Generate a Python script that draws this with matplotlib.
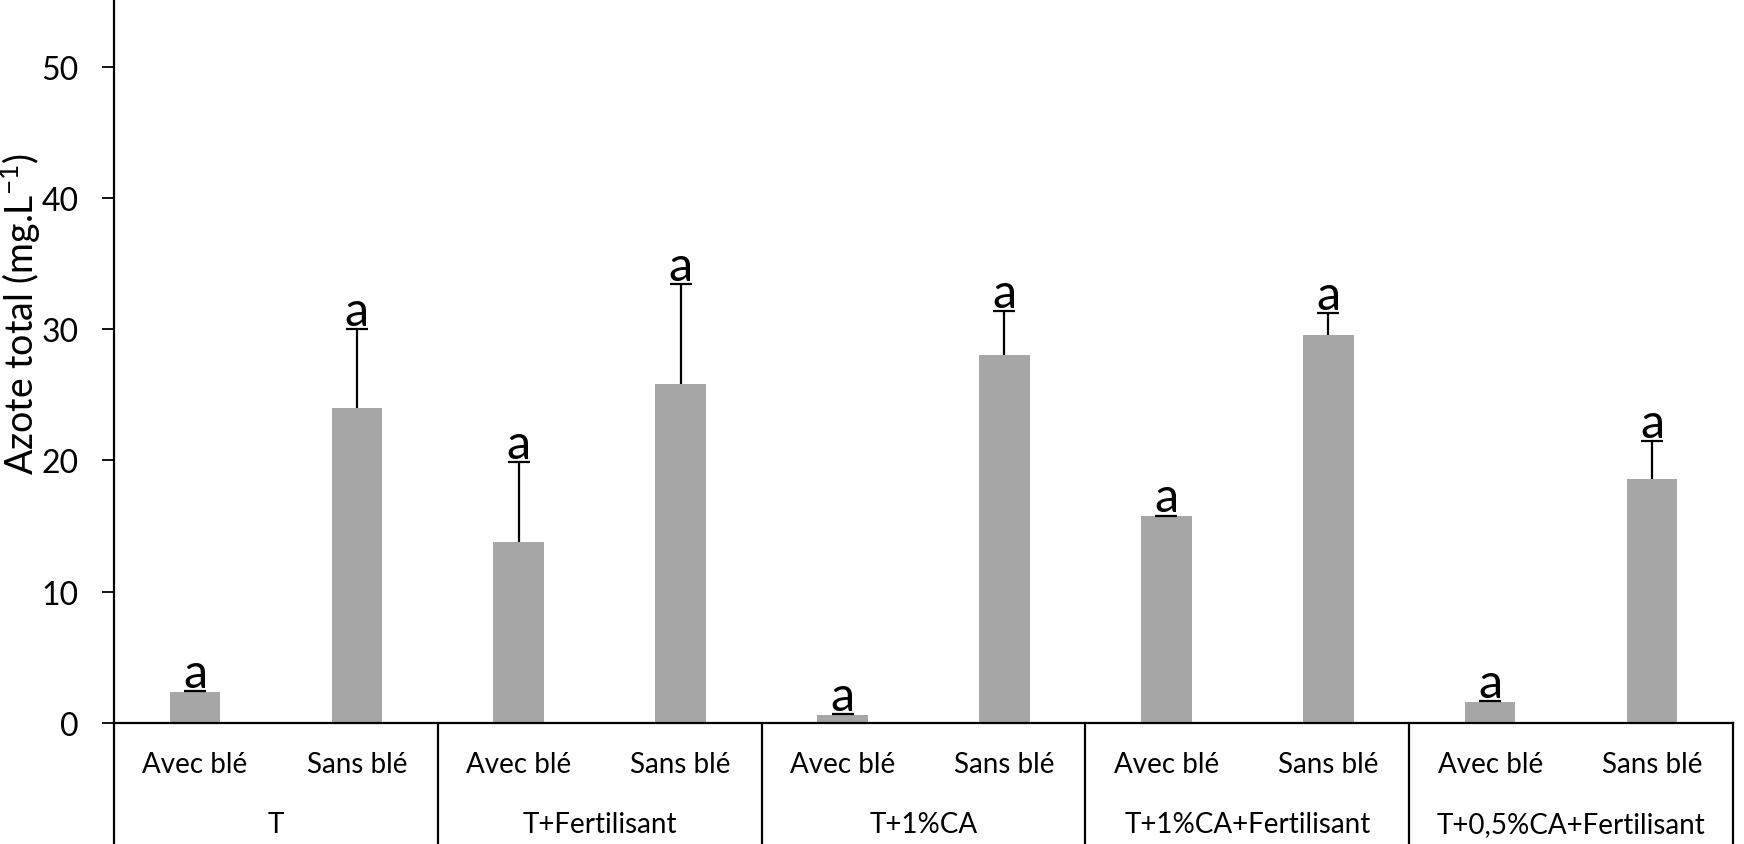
import matplotlib
matplotlib.use("Agg")
import matplotlib.pyplot as plt
from matplotlib.transforms import blended_transform_factory

plt.rcParams['font.family'] = ['Lato', 'DejaVu Sans']
plt.rcParams['mathtext.fontset'] = 'custom'
plt.rcParams['mathtext.rm'] = 'Lato'
plt.rcParams['mathtext.it'] = 'Lato:italic'

# treatments and wheat condition
groups = ['T', 'T+Fertilisant', 'T+1%CA', 'T+1%CA+Fertilisant', 'T+0,5%CA+Fertilisant']
conditions = ['Avec blé', 'Sans blé']

# total nitrogen (mg/L), one pair per treatment: avec, sans
means = [2.35, 24.0, 13.75, 25.8, 0.6, 28.05, 15.75, 29.55, 1.6, 18.6]
errors = [0.1, 6.0, 6.1, 7.6, 0.05, 3.3, 0.05, 1.7, 0.08, 2.85]
letters = ['a'] * 10

W, H = 1744, 845
fig = plt.figure(figsize=(W / 100, H / 100), dpi=100)
ax = fig.add_axes([114 / W, 1 - 724 / H, (1733 - 114) / W, 724 / H])

x = list(range(len(means)))
ax.bar(x, means, width=0.313, color='#a6a6a6', zorder=2)
eb = ax.errorbar(x, means, yerr=[[0] * len(errors), errors], fmt='none',
                 ecolor='black', elinewidth=1.6, capsize=8, capthick=1.6, zorder=3)
# only the upper cap is shown
eb[1][0].set_visible(False)

for xi, m, e, lab in zip(x, means, errors, letters):
    ax.annotate(lab, (xi, m + e), xytext=(0, 3), textcoords='offset points',
                ha='center', va='baseline', fontsize=35)

ax.set_xlim(-0.5, len(means) - 0.5)
ax.set_ylim(0, 724 / 13.13)
ax.set_yticks([0, 10, 20, 30, 40, 50])
ax.tick_params(axis='y', length=8.6, width=1.3, pad=17, labelsize=23)
ax.set_xticks([])
for s in ['top', 'right']:
    ax.spines[s].set_visible(False)
ax.spines['left'].set_linewidth(1.6)
ax.spines['bottom'].set_linewidth(1.6)

# category table under the axis
tr = blended_transform_factory(ax.transData, fig.transFigure)
y_axis = 1 - 724 / H
for bx in [-0.5, 1.5, 3.5, 5.5, 7.5, 9.5]:
    ax.plot([bx, bx], [y_axis, -0.05], transform=tr, color='black',
            lw=1.6, clip_on=False)
for xi in x:
    ax.text(xi, 1 - 765 / H, conditions[xi % 2], transform=tr,
            ha='center', va='center', fontsize=20)
for gi, g in enumerate(groups):
    ax.text(2 * gi + 0.5, 1 - 825 / H, g, transform=tr,
            ha='center', va='center', fontsize=20)

fig.text(-2 / W, 1 - 314 / H, 'Azote total (mg.L$^{-1}$)', rotation=90,
         ha='left', va='center', fontsize=27)

fig.savefig('out.png', dpi=100)
